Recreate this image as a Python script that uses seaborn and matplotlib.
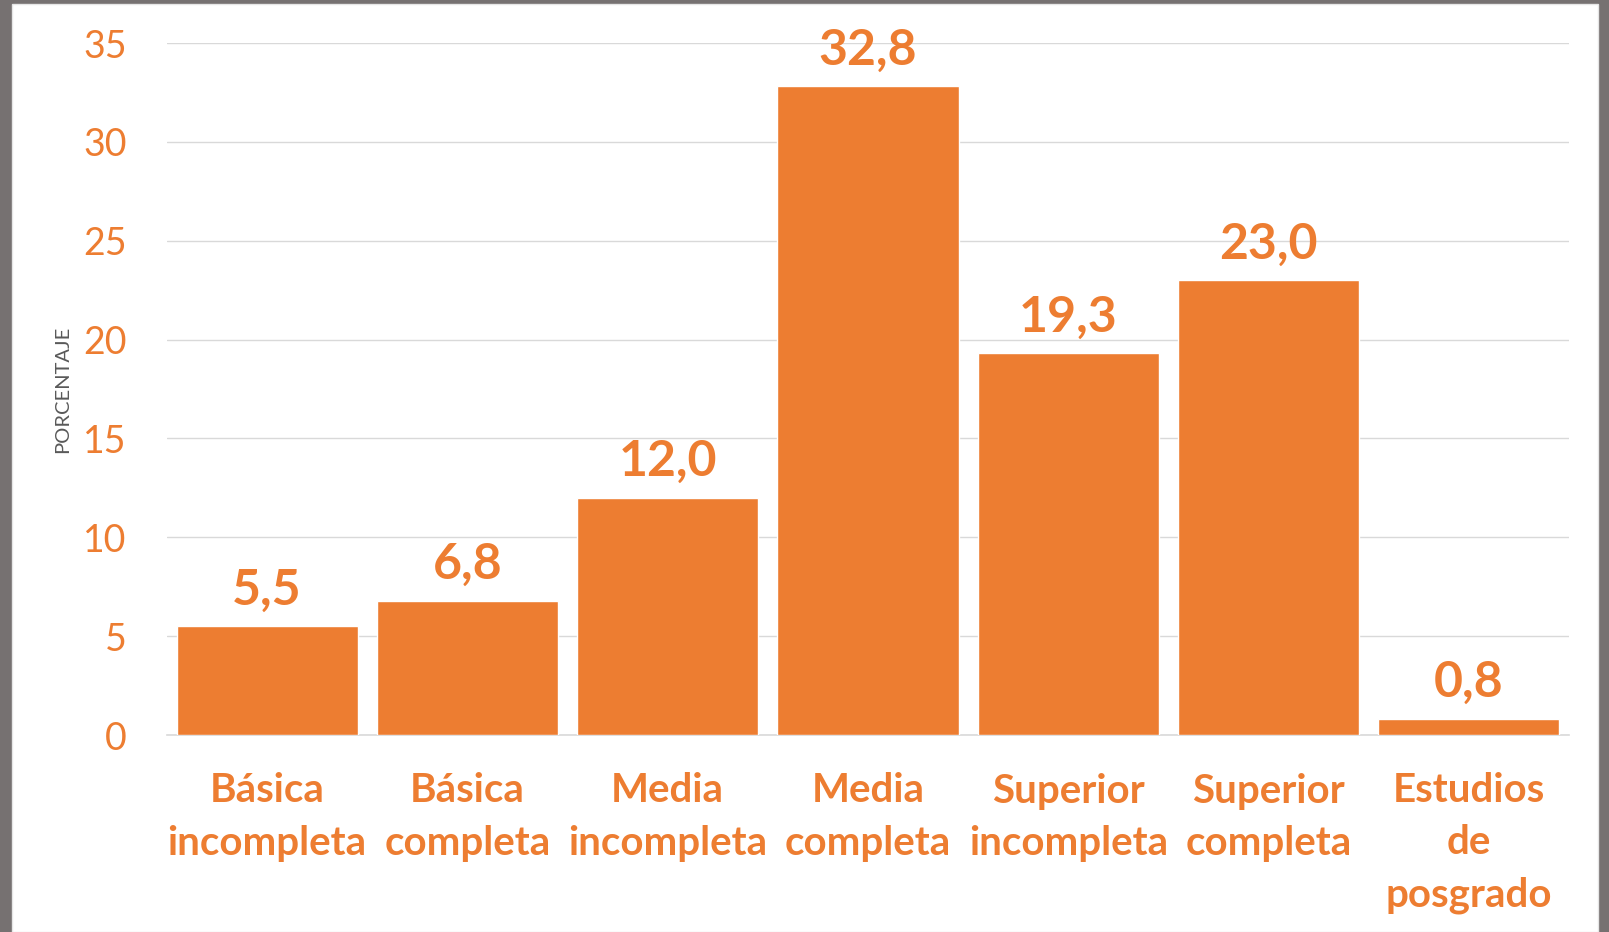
import matplotlib
matplotlib.use("Agg")
import matplotlib.pyplot as plt
from matplotlib.patches import Rectangle
import seaborn as sns
import pandas as pd

categories = ["Básica\nincompleta", "Básica\ncompleta", "Media\nincompleta", "Media\ncompleta",
              "Superior\nincompleta", "Superior\ncompleta", "Estudios\nde\nposgrado"]
values = [5.5, 6.8, 12.0, 32.8, 19.3, 23.0, 0.8]
yticks = [0, 5, 10, 15, 20, 25, 30, 35]
ylabel = "PORCENTAJE"

ORANGE = "#ED7D31"
GRID = "#D9D9D9"

sns.set_theme(style="white")
plt.rcParams['font.family'] = ['Lato', 'DejaVu Sans']

W, H = 1609, 932
fig = plt.figure(figsize=(W / 100, H / 100), dpi=100)
fig.patch.set_facecolor("#767171")
fig.add_artist(Rectangle((12 / W, 0), (1598 - 12) / W, (H - 4) / H, transform=fig.transFigure,
                         facecolor="white", edgecolor="#E6E6E6", linewidth=1, zorder=0))

ax = fig.add_axes([167 / W, 1 - 735 / H, (1569 - 167) / W, (735 - 43) / H])
ax.set_facecolor("none")

df = pd.DataFrame({"cat": categories, "val": values})
sns.barplot(data=df, x="cat", y="val", color=ORANGE, saturation=1, width=0.905, ax=ax, zorder=3)

ax.set_ylim(0, 35)
ax.set_yticks(yticks)
ax.set_yticklabels([str(t) for t in yticks])
ax.yaxis.grid(True, color=GRID, linewidth=1.0, zorder=0)
ax.set_axisbelow(True)
for s in ["left", "right", "top"]:
    ax.spines[s].set_visible(False)
ax.spines["bottom"].set_color(GRID)
ax.spines["bottom"].set_linewidth(1.2)

ax.tick_params(axis="y", length=0, pad=29, labelsize=27, labelcolor=ORANGE)
ax.tick_params(axis="x", length=0, pad=27, labelcolor=ORANGE)
for lab in ax.get_xticklabels():
    lab.set_fontsize(29)
    lab.set_fontweight("bold")
    lab.set_linespacing(1.5)

ax.set_xlabel("")
ax.set_ylabel(ylabel, fontsize=14.5, color="#595959")
ax.yaxis.set_label_coords((71 - 167) / (1569 - 167), 0.5)

ax.bar_label(ax.containers[0], labels=[f"{v:.1f}".replace(".", ",") for v in values],
             padding=10, fontsize=36, fontweight="bold", color=ORANGE)

fig.savefig("out.png", dpi=100, facecolor=fig.get_facecolor())
